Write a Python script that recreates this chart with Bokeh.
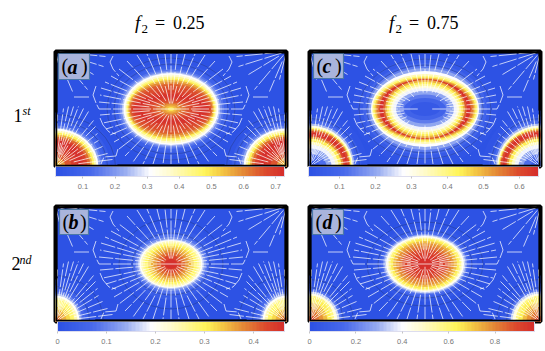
import numpy as np
from bokeh.embed import file_html
from bokeh.layouts import column, row
from bokeh.models import BoxAnnotation, ColorBar, ColumnDataSource, FixedTicker, Label, LinearColorMapper
from bokeh.plotting import figure
from bokeh.resources import INLINE
from bokeh.transform import transform

# Value rings: (half-width, half-height, value), outermost first.
a_center = [(66,52,.03),(60,47,.05),(56,43,.09),(53,40,.14),(51,38.5,.19),(49,37,.25),(47.5,36,.31),(46,34.5,.37),(45,32.5,.43),(44,30.5,.49),(43,29,.55),(42,27,.60),(41,25,.64),(40,22,.67),(39,18,.69),(38,15,.71),(35,13,.72),(30,11.5,.70),(25,10,.68),(20,8,.65),(15,6.5,.62),(10,5,.58),(6,3.5,.54),(3,2,.50)]
a_corner = [(62,54,.03),(55,48,.06),(50,44,.10),(47,41,.15),(45,39,.22),(43,38,.31),(41,36,.40),(39,34,.48),(37,32,.56),(35,30,.63),(32,28,.69),(28,26,.72),(22,20,.70),(16,14,.65),(10,9,.58),(5,5,.52)]
c_center = [(73,57,.025),(67,51,.05),(62,46,.09),(58,43,.14),(56,41,.20),(54,38,.28),(53,35,.36),(52,33,.42),(50.5,31.5,.48),(49,30.5,.53),(48,29.7,.56),(46,29.5,.63),(45,29.5,.65),(42,29.5,.58),(40,29,.50),(38,27,.44),(36,25,.38),(34,23,.32),(32,21,.27),(29,18,.20),(25,14.5,.14),(21,11,.09),(15,7,.05)]
c_corner = [(58,56,.03),(52,50,.06),(47,46,.12),(45,43,.22),(43.5,41,.32),(42,39,.42),(41,37.5,.52),(40,36,.60),(38,34,.65),(36,32,.62),(34,30,.53),(32,28,.44),(29,25,.35),(26,22,.27),(22,18,.20),(17,13,.12),(10,7,.06)]
b_center = [(50,42,.01),(44,36,.03),(40,32,.05),(37,29.5,.08),(35,27,.12),(33,25,.16),(31.5,24,.20),(30,23,.24),(28,21.5,.27),(26,20,.30),(23,18,.33),(20,16,.35),(17,14,.37),(14,12,.40),(10,9,.43),(6,5,.46)]
b_corner = [(40,42,.01),(34,36,.03),(30,33,.06),(27,30,.10),(25.5,28,.15),(24,26,.20),(22,24,.25),(19,22,.29),(15,16,.32),(11,12,.35),(7,8,.38),(4,4,.41)]
d_center = [(60,45,.01),(52,38,.04),(47,34,.08),(44,32,.15),(42,30,.25),(40.5,29,.34),(39,28,.42),(37.5,27,.50),(36,26,.58),(34,25,.65),(32,23,.72),(29,21,.78),(26,18,.83),(23,15,.88),(19,12,.92),(14,9,.95),(8,5,.97)]
d_corner = [(48,46,.01),(40,38,.04),(35,35,.08),(32,32,.18),(30,30,.34),(28,28,.46),(25,26,.58),(22,24,.65),(18,19,.72),(14,15,.78),(10,11,.83),(6,6,.88),(3,3,.92)]

# Dark contour rings (half-width, half-height)
a_contours = [(57,45),(64,51)]
c_contours = [(66,50),(58,44)]
b_contours = [(52,45),(39,31)]
d_contours = [(58,42),(47,34)]
a_corner_contours = [(52,46),(60,52)]
c_corner_contours = [(50,48)]
b_corner_contours = [(48,46),(34,35)]
d_corner_contours = [(44,42),(34,34)]

# Colour bars: range and tick labels
a_range, a_ticks = (0.015, 0.727), [0.1,0.2,0.3,0.4,0.5,0.6,0.7]
c_range, c_ticks = (0.014, 0.653), [0.1,0.2,0.3,0.4,0.5,0.6]
b_range, b_ticks = (0.0, 0.463), [0,0.1,0.2,0.3,0.4]
d_range, d_ticks = (0.0, 0.97), [0,0.2,0.4,0.6,0.8]

# Field lines, as offsets from the spot they leave (right half / left corner; mirrored in plotting)
spoke_ends = [(0,55),(6,55),(14,55),(24,55),(34,54),(44,48),(52,40),(60,33),(66,27),(70,21),(71,14),(72,7),(72,0),(71,-6),(68,-14),(65,-20),(61,-26),(57,-33),(52,-40),(46,-47),(38,-53),(28,-55),(18,-55),(8,-55),(0,-55)]
a_starts = [.1,.35,.1,.3,.15,.25,.12,.3,.1,.3,.15,.3,0,.3,.15,.3,.12,.3,.12,.3,.1,.3,.12,.3,.1]
c_starts = [.4,.3,.35,.3,.3,.25,.35,.25,.3,.35,.3,.3,.1,.3,.3,.35,.3,.35,.3,.38,.3,.4,.35,.4,.3]
b_starts = [.1,.3,.1,.25,.15,.2,.1,.25,.1,.25,.15,.25,0,.25,.15,.25,.1,.25,.1,.25,.1,.25,.1,.25,.1]
d_starts = [.05,.25,.1,.2,.1,.2,.1,.2,.1,.2,.1,.2,0,.2,.1,.2,.1,.2,.1,.2,.1,.25,.1,.2,.05]
corner_ends = [(2,52),(8,58),(13,60),(18,60),(23,60),(28,58),(33,55),(38,46),(40,40),(42,33),(43,26),(47,20),(52,13),(57,7),(62,0)]
corner_starts = [.1,.25,.1,.2,.05,.2,.1,.2,.05,.2,.1,.3,.35,.4,.45]
fan_ends = [(50,-5),(48,-15),(38,-23),(32,-38),(17,-40),(7,-28)]
fan_starts = [.08,.1,.2,.1,.25,.15]
curve_paths = [
    [(58,53),(61,47),(58,40),(52,33)],
    [(75,23),(78,14),(75,6),(72,0)],
    [(71,-9),(68,-16),(62,-23),(55,-25)],
    [(53,-40),(55,-47),(67,-48),(70,-55)],
    [(82,12),(97,12)],
]

STOPS = [0,.15,.3,.415,.5,.655,.72,.82,.92,1]
RGB = [(45,82,228),(72,105,235),(152,172,241),(255,255,255),(255,251,205),(255,245,90),(245,205,70),(228,140,55),(220,75,45),(214,48,44)]
ts = np.linspace(0, 1, 64)
PALETTE = ["#%02x%02x%02x" % tuple(int(round(np.interp(t, STOPS, [c[i] for c in RGB]))) for i in range(3)) for t in ts]

W, H = 231, 115


def txt(p, x, y, s, size, style="normal", color="black", align="left", font="Liberation Serif"):
    p.add_layout(Label(x=x, y=y, text=s, text_font=font, text_font_size=f"{size}px",
                       text_font_style=style, text_color=color, text_align=align,
                       text_baseline="middle"))


def rings(p, mapper, cx, cy, data):
    src = ColumnDataSource(dict(x=[cx]*len(data), y=[cy]*len(data),
                                w=[2*d[0] for d in data], h=[2*d[1] for d in data],
                                v=[d[2] for d in data]))
    p.ellipse("x", "y", "w", "h", source=src, fill_color=transform("v", mapper), line_color=None)


def outlines(p, cx, cy, data, color="#20305a", alpha=.4):
    p.ellipse([cx]*len(data), [cy]*len(data), [2*d[0] for d in data], [2*d[1] for d in data],
              fill_color=None, line_color=color, line_alpha=alpha, line_width=.8)


def streamlines(p, starts):
    cx, cy = W/2, H/2
    xs, ys = [], []
    for (dx, dy), f in zip(spoke_ends, starts):
        for sg in ((1, -1) if dx else (1,)):
            xs.append([cx+sg*dx*f, cx+sg*dx]); ys.append([cy+dy*f, cy+dy])
    for (dx, dy), f in zip(corner_ends, corner_starts):
        xs.append([dx*f, dx]); ys.append([dy*f, dy])
        xs.append([W-dx*f, W-dx]); ys.append([dy*f, dy])
    for (dx, dy), f in zip(fan_ends, fan_starts):
        xs.append([dx*f, dx]); ys.append([H+dy*f, H+dy])
        xs.append([W-dx*f, W-dx]); ys.append([H+dy*f, H+dy])
    for path in curve_paths:
        xs.append([cx+q[0] for q in path]); ys.append([cy+q[1] for q in path])
        xs.append([cx-q[0] for q in path]); ys.append([cy+q[1] for q in path])
    p.multi_line(xs, ys, line_color="white", line_alpha=.8, line_width=.9, line_dash="18 2")


def panel(width, height, left, top, bottom, rng, ticks, center, corner, cont, ccont, starts,
          letter, box, letter_x, bar_dx, bar_dy, bar_w):
    p = figure(width=width, height=height, x_range=(0, W), y_range=(0, H),
               toolbar_location=None, output_backend="svg",
               min_border_left=left, min_border_right=width-left-W,
               min_border_top=top, min_border_bottom=bottom, background_fill_color=PALETTE[0])
    p.xaxis.visible = False
    p.yaxis.visible = False
    p.grid.visible = False
    p.border_fill_color = "white"
    p.outline_line_color = "black"
    p.outline_line_width = 4
    mapper = LinearColorMapper(palette=PALETTE, low=rng[0], high=rng[1])
    rings(p, mapper, 0, 0, corner)
    rings(p, mapper, W, 0, corner)
    rings(p, mapper, W/2, H/2, center)
    outlines(p, W/2, H/2, cont)
    outlines(p, 0, 0, ccont)
    outlines(p, W, 0, ccont)
    streamlines(p, starts)
    p.quad(left=[box[0]], right=[box[1]], bottom=[box[2]], top=[box[3]],
           fill_color="#a9b4dc", line_color="#4a78a8", line_width=1.2)
    txt(p, box[0]+3, (box[2]+box[3])/2+0.5, "(", 20)
    txt(p, letter_x, (box[2]+box[3])/2, letter, 20, "bold italic")
    txt(p, box[1]-8.5, (box[2]+box[3])/2+0.5, ")", 20)
    p.add_layout(BoxAnnotation(fill_alpha=0, line_color="black", line_alpha=1, line_width=3.5, level="overlay"))
    cb = ColorBar(color_mapper=mapper, ticker=FixedTicker(ticks=ticks), width=bar_w, height=10,
                  location=(bar_dx, bar_dy), margin=0, padding=0, bar_line_color="#dde",
                  major_tick_line_color="#c4c4c4", major_tick_in=0, major_tick_out=2,
                  minor_tick_line_color=None, major_label_text_color="#777777",
                  major_label_text_font_size="7.5px", major_label_text_font="Liberation Sans",
                  label_standoff=5)
    p.add_layout(cb, "below")
    return p


def strip(width, height):
    p = figure(width=width, height=height, x_range=(0, width), y_range=(0, height),
               toolbar_location=None, output_backend="svg",
               min_border_left=0, min_border_right=0, min_border_top=0, min_border_bottom=0)
    p.xaxis.visible = False
    p.yaxis.visible = False
    p.grid.visible = False
    p.outline_line_color = None
    return p


pa = panel(246, 150, 5, 4, 31, a_range, a_ticks, a_center, a_corner, a_contours, a_corner_contours,
           a_starts, "a", (3, 34, 87, 113), 12, 0, 1, 229)
pc = panel(249, 150, 13, 4, 31, c_range, c_ticks, c_center, c_corner, c_contours, c_corner_contours,
           c_starts, "c", (4, 34, 88, 113), 13, -1, 1, 230)
pb = panel(246, 154, 5, 9, 30, b_range, b_ticks, b_center, b_corner, b_contours, b_corner_contours,
           b_starts, "b", (4, 33, 87, 112), 13, 2, 0, 227)
pd = panel(249, 154, 13, 9, 30, d_range, d_ticks, d_center, d_corner, d_contours, d_corner_contours,
           d_starts, "d", (3, 34, 87, 112), 13, 0, 0, 225)

# Column titles and row labels
top = strip(545, 47)
for x0, s in ((134.5, "0.25"), (388.5, "0.75")):
    txt(top, x0, 25, "f", 19, "italic")
    txt(top, x0+6.5, 19, "2", 13)
    txt(top, x0+20, 25, "=", 18)
    txt(top, x0+38, 25, s, 18)

left1 = strip(50, 150)
txt(left1, 13, 67, "1", 18)
txt(left1, 22, 72, "st", 12, "italic")
left2 = strip(50, 154)
txt(left2, 11, 78, "2", 18)
txt(left2, 19, 83, "nd", 12, "italic")

root = column(top, row(left1, pa, pc), row(left2, pb, pd))
open("out.html", "w").write(file_html(root, INLINE))
